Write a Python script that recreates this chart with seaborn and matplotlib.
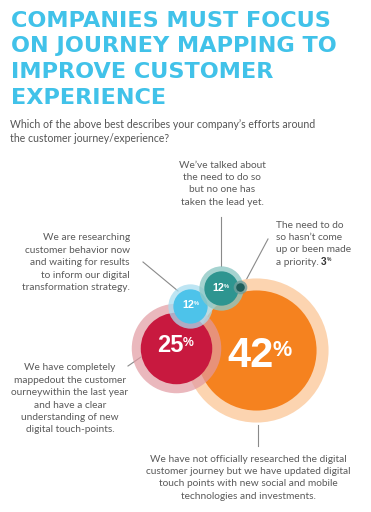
import matplotlib
matplotlib.use("Agg")
import matplotlib.pyplot as plt
import seaborn as sns
import pandas as pd

# data
pcts = [42, 25, 12, 12, 3]
pct_labels = ["42", "25", "12", "12", "3"]
answers = [
    ["We have not officially researched the digital",
     "customer journey but we have updated digital",
     "touch points with new social and mobile",
     "technologies and investments."],
    ["We have completely", "mappedout the customer", "ourneywithin the last year",
     "and have a clear", "understanding of new", "digital touch-points."],
    ["We are researching", "customer behavior now", "and waiting for results",
     "to inform our digital", "transformation strategy."],
    ["We\u2019ve talked about", "the need to do so", "but no one has",
     "taken the lead yet."],
    ["The need to do", "so hasn\u2019t come", "up or been made", "a priority."],
]
title_lines = ["COMPANIES MUST FOCUS", "ON JOURNEY MAPPING TO",
               "IMPROVE CUSTOMER", "EXPERIENCE"]
question_lines = ["Which of the above best describes your company\u2019s efforts around",
                  "the customer journey/experience?"]

# layout (pixels) and styles
cx = [256, 176, 190, 221, 240]
cy = [350, 348, 306, 288, 287]
colors = ["#F5821F", "#C8193F", "#4DC3EA", "#2E9590", "#1F5E5A"]
halo_colors = ["#FCD4B0", "#E29AA2", "#A9DDF0", "#8FC8C5", "#6F9E9B"]
halo_alpha = [1.0, 0.7, 0.75, 0.8, 0.8]
px_per_pct = 1.43
halo_extra = [12, 9, 5, 5, 2.5]
txt_pos = [(248, 459, "center"), (70, 368, "center"), (130, 238, "right"),
           (222, 165, "center"), (276, 225, "left")]
line_step = 12.4
leaders = [((258, 258), (425, 446)), ((128, 141), (366, 357)),
           ((143, 178), (262, 291)), ((221, 221), (217, 266)),
           ((268, 244), (239, 284))]
num_pos = [(250, 356, 30), (170, 346, 17), (188, 305, 7.8), (218, 288, 7.8)]

W, H = 371, 512
fig = plt.figure(figsize=(W / 100, H / 100), dpi=100)
ax = fig.add_axes([0, 0, 1, 1])
ax.set_xlim(0, W)
ax.set_ylim(H, 0)
ax.axis("off")

pt = 0.72  # points per pixel at dpi 100
df = pd.DataFrame({"x": cx, "y": cy, "pct": pcts})
df["r"] = df["pct"] * px_per_pct

for i in range(len(df)):
    row = df.iloc[[i]]
    halo_s = ((2 * (row["r"] + halo_extra[i])) * pt) ** 2
    sns.scatterplot(x=row["x"], y=row["y"], s=halo_s, color=halo_colors[i],
                    alpha=halo_alpha[i], linewidth=0, ax=ax, legend=False, zorder=2 + 2 * i)
    sns.scatterplot(x=row["x"], y=row["y"], s=((2 * row["r"]) * pt) ** 2, color=colors[i],
                    linewidth=0, ax=ax, legend=False, zorder=3 + 2 * i)

# title
for k, line in enumerate(title_lines):
    ax.text(11, 27 + k * 25.5, line, fontsize=16.1, fontweight="heavy",
            family="DejaVu Sans", color="#41C2E9", va="baseline", ha="left")
for k, line in enumerate(question_lines):
    ax.text(10, 125 + k * 13, line, fontsize=7.6, family="Lato", color="#555555",
            va="center", ha="left")

fig.canvas.draw()
renderer = fig.canvas.get_renderer()
inv = ax.transData.inverted()


def right_edge(t):
    bb = t.get_window_extent(renderer)
    (x0, y0), (x1, y1) = inv.transform([[bb.x0, bb.y0], [bb.x1, bb.y1]])
    return x1, y1


# answer texts and leader lines
last_line = None
for i, (tx, ty, ha) in enumerate(txt_pos):
    for k, line in enumerate(answers[i]):
        last_line = ax.text(tx, ty + k * line_step, line, fontsize=7.3, family="Lato",
                            color="#5a5a5a", ha=ha, va="center", zorder=20)
    ax.plot(leaders[i][0], leaders[i][1], color="#8a8a8a", lw=0.8, zorder=1)

# 3% after "a priority."
x1, _ = right_edge(last_line)
ly = txt_pos[4][1] + 3 * line_step
t = ax.text(x1 + 2.5, ly, pct_labels[4], fontsize=7.3, fontweight="bold",
            family="Liberation Sans", color="#333333", ha="left", va="center")
x1, y1 = right_edge(t)
ax.text(x1 + 0.3, y1, "%", fontsize=3.6, fontweight="bold", family="Liberation Sans",
        color="#333333", ha="left", va="top")

# percent labels inside bubbles
for i, (nx, ny, fs) in enumerate(num_pos):
    t = ax.text(nx, ny, pct_labels[i], fontsize=fs, fontweight="bold",
                family="Liberation Sans", color="white", ha="center", va="center", zorder=30)
    x1, y1 = right_edge(t)
    ax.text(x1 - fs * 0.02, y1 + fs * 0.12, "%", fontsize=fs * 0.52, fontweight="bold",
            family="Liberation Sans", color="white", ha="left", va="top", zorder=30)

fig.savefig("out.png", dpi=100)
